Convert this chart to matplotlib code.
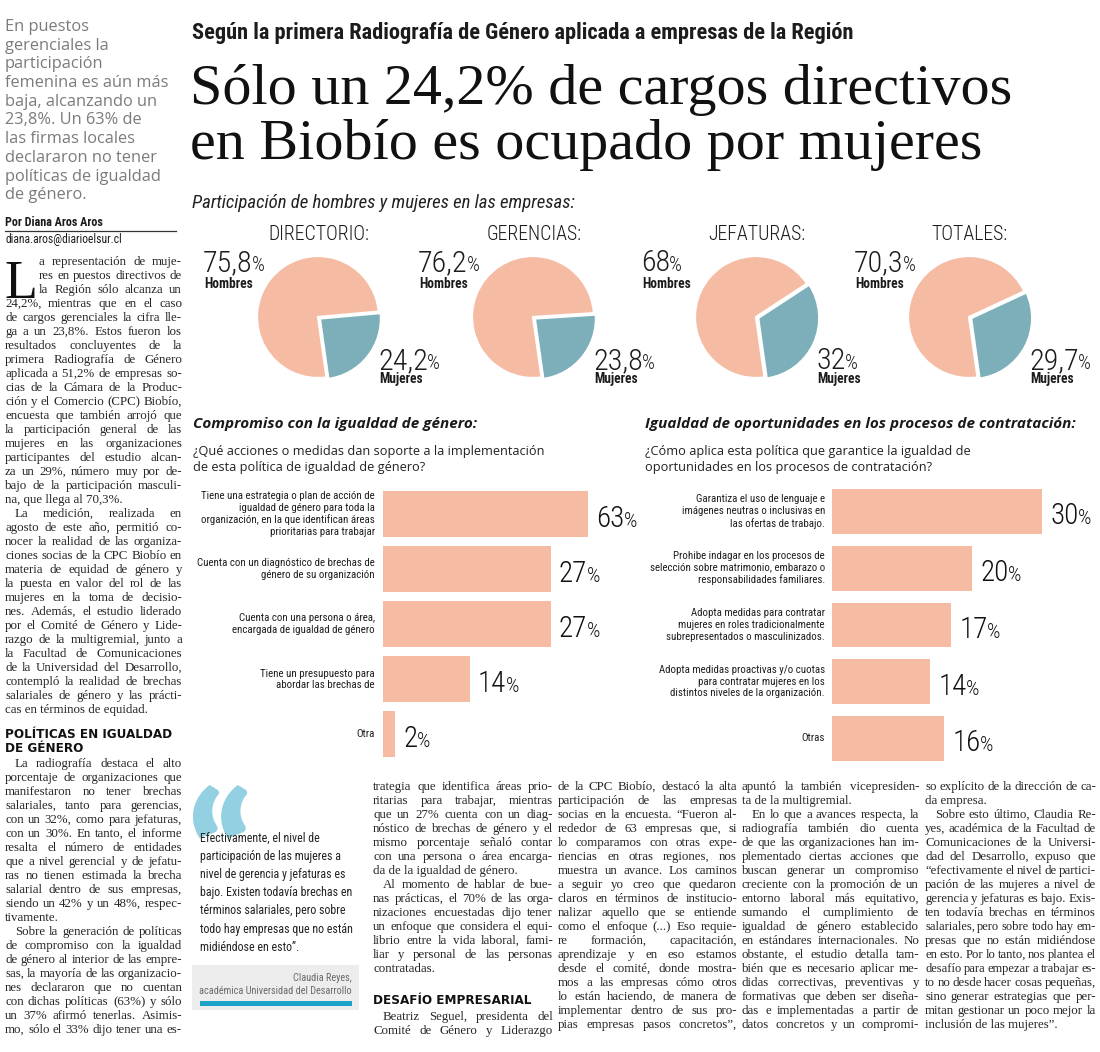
import matplotlib
matplotlib.use('Agg')
import matplotlib.pyplot as plt
from matplotlib.font_manager import FontProperties, fontManager
from matplotlib.transforms import Affine2D
from matplotlib.patches import Rectangle

# ---------------- data ----------------
pie_titles = ['DIRECTORIO:', 'GERENCIAS:', 'JEFATURAS:', 'TOTALES:']
pie_hombres = [75.8, 76.2, 68.0, 70.3]
pie_mujeres = [24.2, 23.8, 32.0, 29.7]
pie_hombres_txt = ['75,8', '76,2', '68', '70,3']
pie_mujeres_txt = ['24,2', '23,8', '32', '29,7']

comp_labels = [
    'Tiene una estrategia o plan de acción de\nigualdad de género para toda la\norganización, en la que identifican áreas\nprioritarias para trabajar',
    'Cuenta con un diagnóstico de brechas de\ngénero de su organización',
    'Cuenta con una persona o área,\nencargada de igualdad de género',
    'Tiene un presupuesto para\nabordar las brechas de',
    'Otra',
]
comp_values = [63, 27, 27, 14, 2]

opp_labels = [
    'Garantiza el uso de lenguaje e\nimágenes neutras o inclusivas en\nlas ofertas de trabajo.',
    'Prohibe indagar en los procesos de\nselección sobre matrimonio, embarazo o\nresponsabilidades familiares.',
    'Adopta medidas para contratar\nmujeres en roles tradicionalmente\nsubrepresentados o masculinizados.',
    'Adopta medidas proactivas y/o cuotas\npara contratar mujeres en los\ndistintos niveles de la organización.',
    'Otras',
]
opp_values = [30, 20, 17, 14, 16]

# ---------------- texts ----------------
kicker = 'Según la primera Radiografía de Género aplicada a empresas de la Región'
headline = ['Sólo un 24,2% de cargos directivos', 'en Biobío es ocupado por mujeres']
sidebar = ['En puestos', 'gerenciales la', 'participación', 'femenina es aún más',
           'baja, alcanzando un', '23,8%. Un 63% de', 'las firmas locales',
           'declararon no tener', 'políticas de igualdad', 'de género.']

col1a = [
    'a representación de muje-', 'res en puestos directivos de', 'la Región sólo alcanza un',
    '24,2%, mientras que en el caso', 'de cargos gerenciales la cifra lle-',
    'ga a un 23,8%. Estos fueron los', 'resultados concluyentes de la',
    'primera Radiografía de Género', 'aplicada a 51,2% de empresas so-',
    'cias de la Cámara de la Produc-', 'ción y el Comercio (CPC) Biobío,',
    'encuesta que también arrojó que', 'la participación general de las',
    'mujeres en las organizaciones', 'participantes del estudio alcan-',
    'za un 29%, número muy por de-', 'bajo de la participación masculi-',
    'na, que llega al 70,3%.$', '\tLa medición, realizada en',
    'agosto de este año, permitió co-', 'nocer la realidad de las organiza-',
    'ciones socias de la CPC Biobío en', 'materia de equidad de género y',
    'la puesta en valor del rol de las', 'mujeres en la toma de decisio-',
    'nes. Además, el estudio liderado', 'por el Comité de Género y Lide-',
    'razgo de la multigremial, junto a', 'la Facultad de Comunicaciones',
    'de la Universidad del Desarrollo,', 'contempló la realidad de brechas',
    'salariales de género y las prácti-', 'cas en términos de equidad.$',
]
col1b = [
    '\tLa radiografía destaca el alto', 'porcentaje de organizaciones que',
    'manifestaron no tener brechas', 'salariales, tanto para gerencias,',
    'con un 32%, como para jefaturas,', 'con un 30%. En tanto, el informe',
    'resalta el número de entidades', 'que a nivel gerencial y de jefatu-',
    'ras no tienen estimada la brecha', 'salarial dentro de sus empresas,',
    'siendo un 42% y un 48%, respec-', 'tivamente.$',
    '\tSobre la generación de políticas', 'de compromiso con la igualdad',
    'de género al interior de las empre-', 'sas, la mayoría de las organizacio-',
    'nes declararon que no cuentan', 'con dichas políticas (63%) y sólo',
    'un 37% afirmó tenerlas. Asimis-', 'mo, sólo el 33% dijo tener una es-',
]
col2a = [
    'trategia que identifica áreas prio-', 'ritarias para trabajar, mientras',
    'que un 27% cuenta con un diag-', 'nóstico de brechas de género y el',
    'mismo porcentaje señaló contar', 'con una persona o área encarga-',
    'da de la igualdad de género.$', '\tAl momento de hablar de bue-',
    'nas prácticas, el 70% de las orga-', 'nizaciones encuestadas dijo tener',
    'un enfoque que considera el equi-', 'librio entre la vida laboral, fami-',
    'liar y personal de las personas', 'contratadas.$',
]
col2b = ['\tBeatriz Seguel, presidenta del', 'Comité de Género y Liderazgo']
col3 = [
    'de la CPC Biobío, destacó la alta', 'participación de las empresas',
    'socias en la encuesta. “Fueron al-', 'rededor de 63 empresas que, si',
    'lo comparamos con otras expe-', 'riencias en otras regiones, nos',
    'muestra un avance. Los caminos', 'a seguir yo creo que quedaron',
    'claros en términos de institucio-', 'nalizar aquello que se entiende',
    'como el enfoque (...) Eso requie-', 're formación, capacitación,',
    'aprendizaje y en eso estamos', 'desde el comité, donde mostra-',
    'mos a las empresas cómo otros', 'lo están haciendo, de manera de',
    'implementar dentro de sus pro-', 'pias empresas pasos concretos”,',
]
col4 = [
    'apuntó la también vicepresiden-', 'ta de la multigremial.$',
    '\tEn lo que a avances respecta, la', 'radiografía también dio cuenta',
    'de que las organizaciones han im-', 'plementado ciertas acciones que',
    'buscan generar un compromiso', 'creciente con la promoción de un',
    'entorno laboral más equitativo,', 'sumando el cumplimiento de',
    'igualdad de género establecido', 'en estándares internacionales. No',
    'obstante, el estudio detalla tam-', 'bién que es necesario aplicar me-',
    'didas correctivas, preventivas y', 'formativas que deben ser diseña-',
    'das e implementadas a partir de', 'datos concretos y un compromi-',
]
col5 = [
    'so explícito de la dirección de ca-', 'da empresa.$',
    '\tSobre esto último, Claudia Re-', 'yes, académica de la Facultad de',
    'Comunicaciones de la Universi-', 'dad del Desarrollo, expuso que',
    '“efectivamente el nivel de partici-', 'pación de las mujeres a nivel de',
    'gerencia y jefaturas es bajo. Exis-', 'ten todavía brechas en términos',
    'salariales, pero sobre todo hay em-', 'presas que no están midiéndose',
    'en esto. Por lo tanto, nos plantea el', 'desafío para empezar a trabajar es-',
    'to no desde hacer cosas pequeñas,', 'sino generar estrategias que per-',
    'mitan gestionar un poco mejor la', 'inclusión de las mujeres”.$',
]
quote_lines = ['Efectivamente, el nivel de', 'participación de las mujeres a',
               'nivel de gerencia y jefaturas es', 'bajo. Existen todavía brechas en',
               'términos salariales, pero sobre', 'todo hay empresas que no están',
               'midiéndose en esto”.']

# ---------------- setup ----------------
W, H = 1100, 1052
fig = plt.figure(figsize=(W / 100, H / 100), dpi=100)
fig.patch.set_facecolor('white')
PX = Affine2D().scale(1.0 / W, -1.0 / H).translate(0, 1) + fig.transFigure
PT = 0.72
REND = fig.canvas.get_renderer()

names = {f.name for f in fontManager.ttflist}
def pick(*c):
    for n in c:
        if n in names:
            return n
    return 'DejaVu Sans'

SERIF = pick('Liberation Serif', 'DejaVu Serif')
COND = pick('Roboto Condensed', 'Liberation Sans Narrow', 'Open Sans', 'DejaVu Sans')
SANS = pick('Open Sans', 'Lato', 'DejaVu Sans')
QUOTEF = pick('Lato', 'Roboto', 'DejaVu Sans')
VERD = 'DejaVu Sans'

INK = '#1c1c1c'
BODY = '#262626'
GRAY = '#7b7b7b'
SALMON = '#F6BBA3'
BLUE = '#7DAFBA'

def fp(size_px, family, weight='normal', style='normal'):
    return FontProperties(family=[family, 'DejaVu Sans'], size=size_px * PT,
                          weight=weight, style=style)

def tw(s, size_px, family, weight='normal', style='normal'):
    w, h, d = REND.get_text_width_height_descent(s, fp(size_px, family, weight, style), ismath=False)
    return w

def fit(s, width, family, weight='normal', style='normal'):
    return 100.0 * width / tw(s, 100, family, weight, style)

def txt(x, y, s, size_px, family, weight='normal', style='normal', color=INK,
        ha='left', va='center', **kw):
    return fig.text(x, y, s, transform=PX, fontproperties=fp(size_px, family, weight, style),
                    color=color, ha=ha, va=va, **kw)

# ---------------- headline ----------------
ks = fit(kicker, 663, COND, 'bold')
txt(192, 39, kicker, ks, COND, 'bold', va='baseline')
hs = fit(headline[0], 823, SERIF)
txt(190, 104, headline[0], hs, SERIF, va='baseline', color='#111111')
txt(190, 159, headline[1], hs, SERIF, va='baseline', color='#111111')

# ---------------- sidebar ----------------
ss = min(fit(s, 164, SANS) for s in sidebar)
for i, s in enumerate(sidebar):
    txt(5, 27 + i * 18.7, s, ss, SANS, color=GRAY)
txt(5, 223, 'Por Diana Aros Aros', fit('Por Diana Aros Aros', 98, COND, 'bold'), COND, 'bold')
fig.add_artist(plt.Line2D([5, 176], [230.5, 230.5], transform=PX, color='#333333', lw=0.9))
txt(5, 239, 'diana.aros@diarioelsur.cl', fit('diana.aros@diarioelsur.cl', 118, COND), COND)

# ---------------- body columns ----------------
BSIZE = 12.9
MINGAP = 2.4

def column(lines, x0, x1, y0, lh, size, first_x=None):
    for i, raw in enumerate(lines):
        y = y0 + i * lh
        end = raw.endswith('$')
        s = raw.rstrip('$')
        par = s.startswith('\t')
        s = s.strip()
        xs = x0 + (10 if par else 0)
        if first_x is not None and i < 3:
            xs = x0 + first_x
        words = s.split(' ')
        avail = x1 - xs
        sz = size
        nat = sum(tw(w, sz, SERIF) for w in words) + MINGAP * (len(words) - 1)
        if nat > avail:
            sz = size * (avail - MINGAP * (len(words) - 1)) / (nat - MINGAP * (len(words) - 1))
        if end or len(words) == 1:
            txt(xs, y, s, sz, SERIF, color=BODY)
            continue
        ws = [tw(w, sz, SERIF) for w in words]
        gap = (avail - sum(ws)) / (len(words) - 1)
        x = xs
        for w, wd in zip(words, ws):
            txt(x, y, w, sz, SERIF, color=BODY)
            x += wd + gap

LH = 14.0
dropsize = 54
dropw = tw('L', dropsize, SERIF)
cols = [(col1a, 5, 182, 262, dropw + 1), (col1b, 5, 182, 764, None),
        (col2a, 373, 553, 787, None), (col2b, 373, 553, 1017, None),
        (col3, 558, 737, 787, None), (col4, 742, 919, 787, None),
        (col5, 925, 1096, 787, None)]
for lines, x0, x1, y0, fx in cols:
    column(lines, x0, x1, y0, LH, BSIZE, fx)
txt(4, 298, 'L', dropsize, SERIF, color='#111111', va='baseline')

hsz = fit('POLÍTICAS EN IGUALDAD', 167, VERD, 'bold')
txt(5, 735, 'POLÍTICAS EN IGUALDAD', hsz, VERD, 'bold', color='#111111')
txt(5, 749, 'DE GÉNERO', hsz, VERD, 'bold', color='#111111')
txt(373, 1000, 'DESAFÍO EMPRESARIAL', hsz, VERD, 'bold', color='#111111')

# ---------------- quote box ----------------
qsz = fit('“', 64, QUOTEF, 'heavy')
txt(188, 792, '“', qsz, QUOTEF, 'heavy', color='#93D0E2', va='top', zorder=0)
qs = min(fit(s, 153, COND) for s in quote_lines)
for i, s in enumerate(quote_lines):
    txt(200, 838 + i * 18.2, s, qs, COND, color='#222222', zorder=2)
fig.add_artist(Rectangle((192, 965), 167, 45, transform=PX, facecolor='#EDEDED',
                         edgecolor='none', zorder=0))
cs = fit('académica Universidad del Desarrollo', 152, COND)
txt(352, 978, 'Claudia Reyes,', cs, COND, color='#6a6a6a', ha='right')
txt(352, 991, 'académica Universidad del Desarrollo', cs, COND, color='#6a6a6a', ha='right')
fig.add_artist(Rectangle((200, 1001), 152, 5, transform=PX, facecolor='#1DA3C8',
                         edgecolor='none'))

# ---------------- pies ----------------
txt(192, 203, 'Participación de hombres y mujeres en las empresas:',
    fit('Participación de hombres y mujeres en las empresas:', 383, COND, 'normal', 'italic'),
    COND, 'normal', 'italic', color='#222222')
pie_cx = [318, 533, 756, 969]
pie_cy = 317
r = 61
tsz = fit('DIRECTORIO:', 101, COND, 300)
nsz = 30
psz = 20
hb = fit('Hombres', 49, COND, 'bold')
for i in range(4):
    cx = pie_cx[i]
    Rb = r * 1.15
    ax = fig.add_axes([(cx - Rb) / W, 1 - (pie_cy + Rb) / H, 2 * Rb / W, 2 * Rb / H])
    ax.pie([pie_mujeres[i], pie_hombres[i]], colors=[BLUE, SALMON], startangle=-82,
           counterclock=True, explode=[0.04, 0], radius=1,
           wedgeprops=dict(edgecolor='white', linewidth=1.6))
    ax.set_xlim(-1.15, 1.15)
    ax.set_ylim(-1.15, 1.15)
    ax.axis('off')
    txt(cx + 1, 234, pie_titles[i], tsz, COND, 300, ha='center', color='#1a1a1a')
    # hombres
    hx = cx - 115
    txt(hx, pie_cy - 46, pie_hombres_txt[i], nsz, COND, 300, va='baseline')
    txt(hx + tw(pie_hombres_txt[i], nsz, COND, 300) - 1, pie_cy - 46, '%', psz, COND, 300, va='baseline')
    txt(hx + 1, pie_cy - 33, 'Hombres', hb, COND, 'bold')
    # mujeres
    mx = cx + 60
    txt(mx, pie_cy + 52, pie_mujeres_txt[i], nsz, COND, 300, va='baseline')
    txt(mx + tw(pie_mujeres_txt[i], nsz, COND, 300) - 1, pie_cy + 52, '%', psz, COND, 300, va='baseline')
    txt(mx + 1, pie_cy + 62, 'Mujeres', hb, COND, 'bold')

# ---------------- bar charts ----------------
hdr_l = 'Compromiso con la igualdad de género:'
hdr_r = 'Igualdad de oportunidades en los procesos de contratación:'
hsz2 = min(fit(hdr_l, 283, SANS, 'bold', 'italic'), fit(hdr_r, 431, SANS, 'bold', 'italic'))
txt(193, 424, hdr_l, hsz2, SANS, 'bold', 'italic', color='#1a1a1a')
txt(645, 424, hdr_r, hsz2, SANS, 'bold', 'italic', color='#1a1a1a')
ql = ['¿Qué acciones o medidas dan soporte a la implementación', 'de esta política de igualdad de género?']
qr = ['¿Cómo aplica esta política que garantice la igualdad de', 'oportunidades en los procesos de contratación?']
qsz2 = min(fit(ql[0], 349, SANS), fit(qr[0], 331, SANS))
for j in range(2):
    txt(193, 452 + j * 16, ql[j], qsz2, SANS, color='#222222')
    txt(645, 452 + j * 16, qr[j], qsz2, SANS, color='#222222')

lab_sz = min(fit('Tiene una estrategia o plan de acción de', 176, COND),
             fit('Adopta medidas proactivas y/o cuotas', 166, COND))
vsz = 29
vpsz = 21

def bar_chart(rect, labels, values, xmax, height, lab_off):
    ax = fig.add_axes(rect)
    ax.barh(range(len(values)), values, height=height, color=SALMON)
    ax.set_xlim(0, xmax)
    ax.set_ylim(len(values) - 0.5, -0.5)
    ax.axis('off')
    for i, (lab, v) in enumerate(zip(labels, values)):
        ax.annotate(lab, xy=(0, i), xytext=(-lab_off * PT, 0), textcoords='offset points',
                    ha='right', va='center', multialignment='right',
                    fontproperties=fp(lab_sz, COND), color='#1e1e1e',
                    linespacing=13.0 / lab_sz, annotation_clip=False)
        xe = min(v, xmax)
        num = '%d' % v
        ax.annotate(num, xy=(xe, i), xytext=(8 * PT, -13 * PT), textcoords='offset points',
                    ha='left', va='baseline', fontproperties=fp(vsz, COND, 300), color='#111111',
                    annotation_clip=False)
        ax.annotate('%', xy=(xe, i), xytext=((8 + tw(num, vsz, COND, 300) - 0.5) * PT, -13 * PT),
                    textcoords='offset points', ha='left', va='baseline',
                    fontproperties=fp(vpsz, COND, 300), color='#111111', annotation_clip=False)
    return ax

bar_chart([383 / W, 1 - (486.5 + 275.5) / H, 205 / W, 275.5 / H],
          comp_labels, comp_values, 33.0, 0.835, 8)
bar_chart([832 / W, 1 - (483.1 + 283.75) / H, 213 / W, 283.75 / H],
          opp_labels, opp_values, 30.4, 0.79, 7)

fig.savefig('out.png', dpi=100, facecolor='white')
